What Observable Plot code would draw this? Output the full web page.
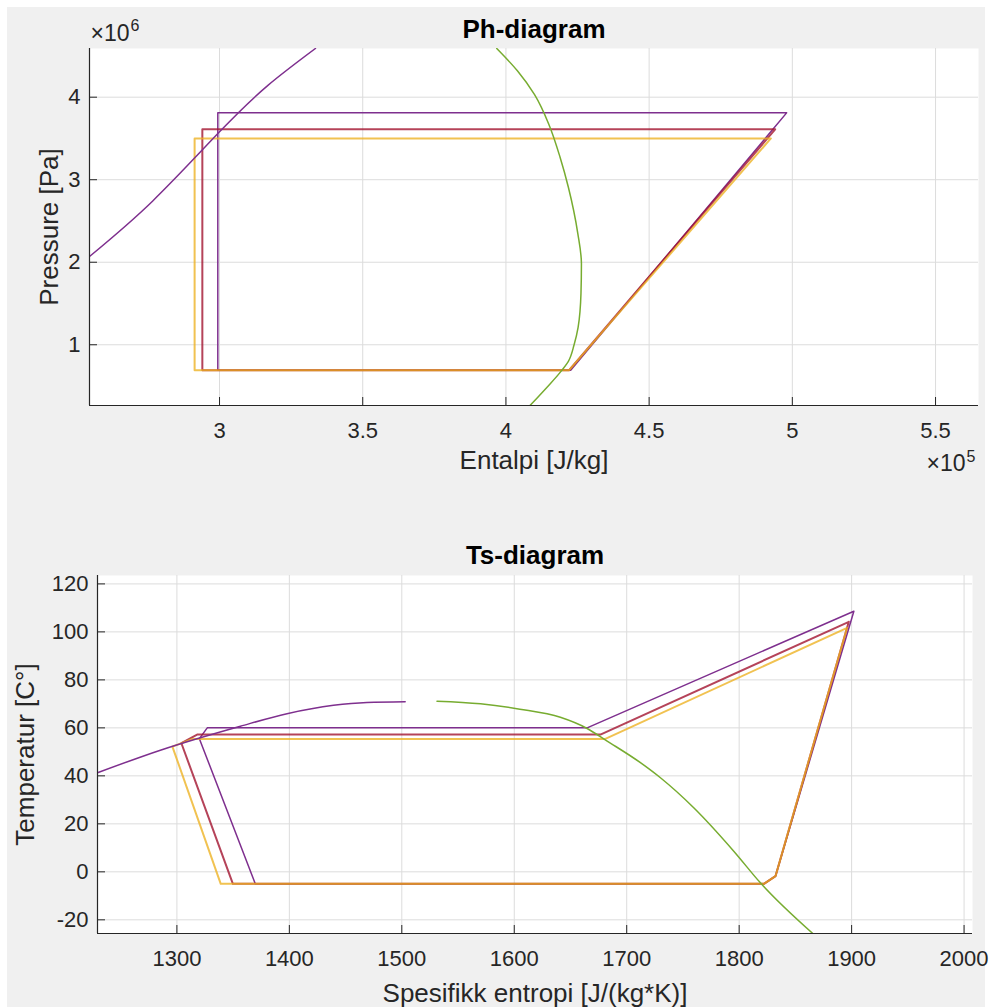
<!DOCTYPE html>
<html>
<head>
<meta charset="utf-8">
<script src="https://cdn.jsdelivr.net/npm/d3@7"></script>
<script src="https://cdn.jsdelivr.net/npm/@observablehq/plot@0.6"></script>
<style>
  body { margin: 0; background: #ffffff; width: 995px; height: 1007px; position: relative; overflow: hidden;
         font-family: "Liberation Sans", Arial, sans-serif; }
  #bg { position: absolute; left: 7px; top: 7px; width: 978px; height: 1000px; background: #f0f0f0; }
  #ph { position: absolute; left: 0; top: 0; }
  #ts { position: absolute; left: 0; top: 500px; }
</style>
</head>
<body>
<div id="bg"></div>
<div id="ph"></div>
<div id="ts"></div>
<script>
// ---------------- DATA ----------------
const cycleNames = ["Syklus 1", "Syklus 2", "Syklus 3"];
const cycleColors = ["#7E2F8E", "#A2142F", "#EDB120"];

// Ph-diagram (h in J/kg, p in Pa)
const phXTicks = [3e5, 3.5e5, 4e5, 4.5e5, 5e5, 5.5e5];
const phYTicks = [1e6, 2e6, 3e6, 4e6];
const phXDomain = [2.546e5, 5.65e5];
const phYDomain = [0.264e6, 4.59e6];

const phLiqH = [2.546e5, 2.766e5, 3.0e5, 3.168e5, 3.335e5];
const phLiqP = [2.07e6, 2.74e6, 3.58e6, 4.14e6, 4.59e6];

const phVapH = [3.968e5, 4.040e5, 4.100e5, 4.150e5, 4.189e5, 4.218e5, 4.251e5, 4.2636e5, 4.262e5, 4.252e5, 4.238e5, 4.218e5, 4.195e5, 4.142e5, 4.084e5];
const phVapP = [4.59e6, 4.32e6, 4.03e6, 3.67e6, 3.273e6, 2.909e6, 2.348e6, 1.984e6, 1.62e6, 1.21e6, 1.0e6, 0.80e6, 0.69e6, 0.48e6, 0.264e6];

const phCycleH = [
  [4.98e5, 2.994e5, 2.994e5, 4.226e5, 4.98e5],
  [4.94e5, 2.94e5, 2.94e5, 4.22e5, 4.94e5],
  [4.925e5, 2.913e5, 2.913e5, 4.22e5, 4.925e5]
];
const phCycleP = [
  [3.81e6, 3.81e6, 0.69e6, 0.69e6, 3.81e6],
  [3.61e6, 3.61e6, 0.69e6, 0.69e6, 3.61e6],
  [3.50e6, 3.50e6, 0.69e6, 0.69e6, 3.50e6]
];

// Ts-diagram (s in J/(kg*K), T in °C)
const tsXTicks = [1300, 1400, 1500, 1600, 1700, 1800, 1900, 2000];
const tsYTicks = [-20, 0, 20, 40, 60, 80, 100, 120];
const tsXDomain = [1229.4, 2007.5];
const tsYDomain = [-25.7, 123.5];

const tsLiqS = [1229.4, 1285.3, 1356.5, 1397.9, 1439.3, 1469, 1503];
const tsLiqT = [41.3, 50.7, 60.7, 65.9, 69.4, 70.6, 70.9];

const tsVapS = [1531.3, 1570, 1605, 1641, 1664.8, 1682.6, 1712.2, 1730, 1759.6, 1795.2, 1818.9, 1866.4];
const tsVapT = [71.1, 70, 67.8, 64.4, 59.75, 54.5, 45.5, 39.2, 26.7, 8.6, -4.6, -26.1];

const tsCycleS = [
  [1902, 1664.8, 1327, 1320, 1369.7, 1822, 1832.3, 1902],
  [1897.5, 1676.6, 1318, 1304, 1349.8, 1822, 1832.3, 1897.5],
  [1896, 1681, 1314, 1296, 1339, 1822, 1832.3, 1896]
];
const tsCycleT = [
  [108.6, 60, 60, 55.5, -5, -5, -1.8, 108.6],
  [104.2, 57.2, 57.2, 53.6, -5, -5, -1.8, 104.2],
  [101.7, 55.4, 55.4, 52.2, -5, -5, -1.8, 101.7]
];

// ---------------- HELPERS ----------------
const FONT = "Liberation Sans, Arial, sans-serif";
const TXT = "#262626";
const zip = (xs, ys) => xs.map((x, i) => ({x, y: ys[i]}));
const cycleTable = (XS, YS) => cycleNames.flatMap((name, k) =>
  XS[k].map((x, i) => ({name, x, y: YS[k][i], order: k})));
const widths = [1.5, 2, 2];
const opac = [1, 0.8, 0.78];

function cycleMarks(table) {
  return cycleNames.map((name, k) =>
    Plot.line(table.filter(d => d.name === name), {
      x: "x", y: "y", stroke: cycleColors[k], strokeWidth: widths[k],
      strokeOpacity: opac[k], clip: true, strokeLinejoin: "round"
    }));
}

function axes({xTicks, yTicks, xDomain, yDomain, xFmt, yFmt}) {
  return [
    Plot.axisX(xTicks, {tickSize: -8, tickPadding: 25, tickFormat: xFmt, fontSize: 22,
      color: TXT, label: null}),
    Plot.axisY(yTicks, {tickSize: -8, tickPadding: 17, tickFormat: yFmt, fontSize: 22,
      color: TXT, label: null}),
    Plot.ruleY([yDomain[0]], {stroke: TXT, strokeWidth: 1.2}),
    Plot.ruleX([xDomain[0]], {stroke: TXT, strokeWidth: 1.2})
  ];
}

// ---------------- Ph ----------------
const ph = Plot.plot({
  width: 995, height: 500,
  marginLeft: 89, marginRight: 17, marginTop: 48, marginBottom: 95,
  style: {background: "transparent", fontFamily: FONT, overflow: "visible"},
  x: {domain: phXDomain, ticks: phXTicks},
  y: {domain: phYDomain, ticks: phYTicks},
  marks: [
    Plot.frame({fill: "white", stroke: "none"}),
    Plot.gridX(phXTicks, {stroke: "#dcdcdc", strokeOpacity: 1}),
    Plot.gridY(phYTicks, {stroke: "#dcdcdc", strokeOpacity: 1}),
    ...cycleMarks(cycleTable(phCycleH, phCycleP)),
    Plot.line(zip(phLiqH, phLiqP), {x: "x", y: "y", stroke: "#7E2F8E", strokeWidth: 1.5, curve: "natural", clip: true}),
    Plot.line(zip(phVapH, phVapP), {x: "x", y: "y", stroke: "#77AC30", strokeWidth: 1.5, curve: "monotone-y", clip: true}),
    ...axes({xTicks: phXTicks, yTicks: phYTicks, xDomain: phXDomain, yDomain: phYDomain,
             xFmt: d => String(d / 1e5), yFmt: d => String(d / 1e6)}),
    Plot.text(["Ph-diagram"], {frameAnchor: "top", dy: -11, lineAnchor: "bottom", fontSize: 26, fontWeight: "bold", fill: "#000"}),
    Plot.text(["Entalpi [J/kg]"], {frameAnchor: "bottom", dy: 55, lineAnchor: "middle", fontSize: 26, fill: TXT}),
    Plot.text(["Pressure [Pa]"], {frameAnchor: "left", dx: -40, rotate: -90, textAnchor: "middle", lineAnchor: "middle", fontSize: 26, fill: TXT}),
    Plot.text(["×10"], {frameAnchor: "top-left", dx: 1, dy: -8, textAnchor: "start", lineAnchor: "bottom", fontSize: 23, fill: TXT}),
    Plot.text(["6"], {frameAnchor: "top-left", dx: 41, dy: -18, textAnchor: "start", lineAnchor: "bottom", fontSize: 16, fill: TXT}),
    Plot.text(["×10"], {frameAnchor: "bottom-right", dx: -13, dy: 65, textAnchor: "end", lineAnchor: "bottom", fontSize: 23, fill: TXT}),
    Plot.text(["5"], {frameAnchor: "bottom-right", dx: -3, dy: 56, textAnchor: "end", lineAnchor: "bottom", fontSize: 16, fill: TXT})
  ]
});
document.getElementById("ph").appendChild(ph);

// ---------------- Ts ----------------
const ts = Plot.plot({
  width: 995, height: 507,
  marginLeft: 97, marginRight: 23, marginTop: 75, marginBottom: 74,
  style: {background: "transparent", fontFamily: FONT, overflow: "visible"},
  x: {domain: tsXDomain, ticks: tsXTicks},
  y: {domain: tsYDomain, ticks: tsYTicks},
  marks: [
    Plot.frame({fill: "white", stroke: "none"}),
    Plot.gridX(tsXTicks, {stroke: "#dcdcdc", strokeOpacity: 1}),
    Plot.gridY(tsYTicks, {stroke: "#dcdcdc", strokeOpacity: 1}),
    ...cycleMarks(cycleTable(tsCycleS, tsCycleT)),
    Plot.line(zip(tsLiqS, tsLiqT), {x: "x", y: "y", stroke: "#7E2F8E", strokeWidth: 1.5, curve: "monotone-x", clip: true}),
    Plot.line(zip(tsVapS, tsVapT), {x: "x", y: "y", stroke: "#77AC30", strokeWidth: 1.5, curve: "monotone-x", clip: true}),
    ...axes({xTicks: tsXTicks, yTicks: tsYTicks, xDomain: tsXDomain, yDomain: tsYDomain,
             xFmt: d => String(d), yFmt: d => String(d)}),
    Plot.text(["Ts-diagram"], {frameAnchor: "top", dy: -12, lineAnchor: "bottom", fontSize: 26, fontWeight: "bold", fill: "#000"}),
    Plot.text(["Spesifikk entropi [J/(kg*K)]"], {frameAnchor: "bottom", dy: 60, lineAnchor: "middle", fontSize: 26, fill: TXT}),
    Plot.text(["Temperatur [C°]"], {frameAnchor: "left", dx: -72, rotate: -90, textAnchor: "middle", lineAnchor: "middle", fontSize: 26, fill: TXT})
  ]
});
document.getElementById("ts").appendChild(ts);
</script>
</body>
</html>
